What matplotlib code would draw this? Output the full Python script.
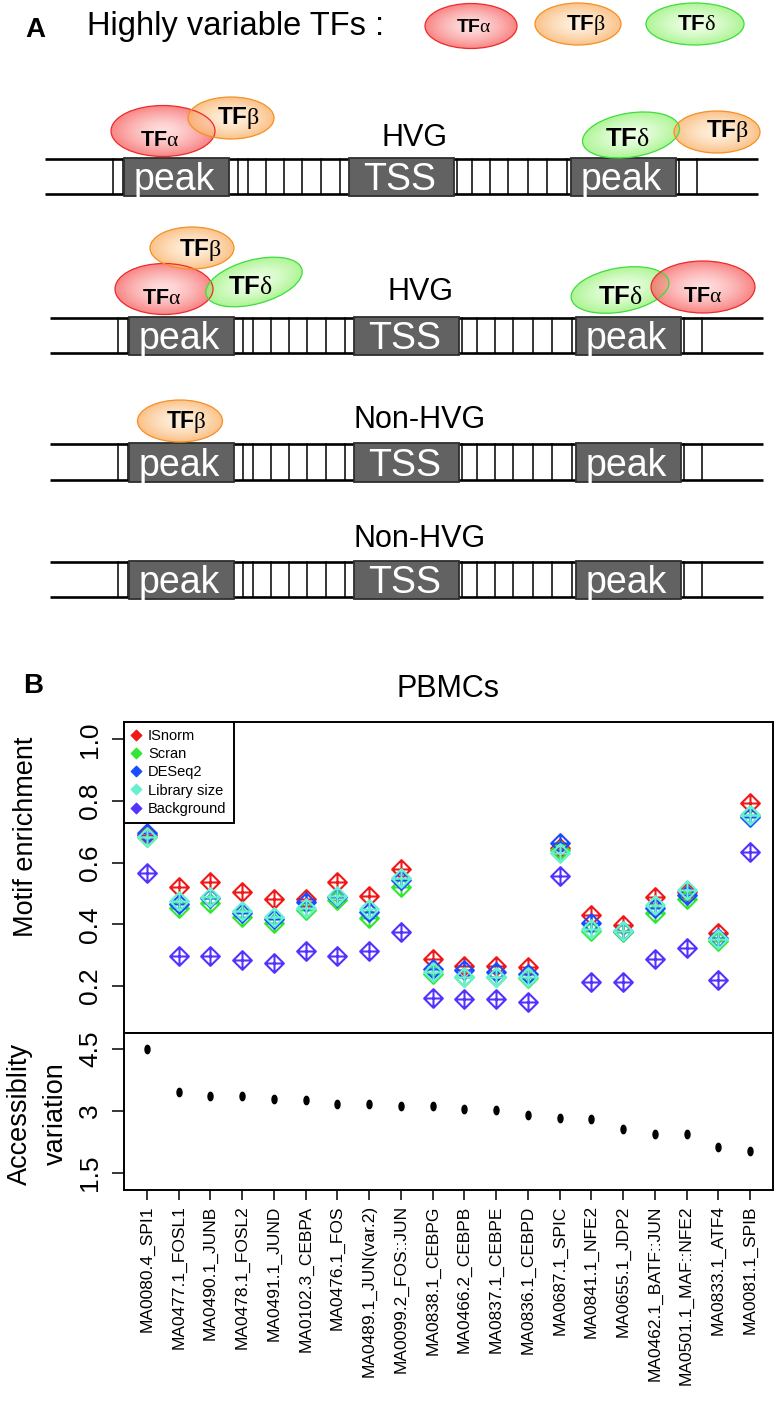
import numpy as np
import matplotlib
matplotlib.use("Agg")
import matplotlib.pyplot as plt
from matplotlib.patches import Ellipse, Rectangle
from matplotlib.path import Path
from matplotlib.lines import Line2D

plt.rcParams['font.family'] = ['Liberation Sans', 'DejaVu Sans']
plt.rcParams['mathtext.fontset'] = 'custom'
plt.rcParams['mathtext.bf'] = 'Liberation Sans:bold'
plt.rcParams['mathtext.rm'] = 'Liberation Serif'
plt.rcParams['mathtext.it'] = 'Liberation Serif:italic'

# ---------------- data ----------------
motifs = ["MA0080.4_SPI1", "MA0477.1_FOSL1", "MA0490.1_JUNB", "MA0478.1_FOSL2",
          "MA0491.1_JUND", "MA0102.3_CEBPA", "MA0476.1_FOS", "MA0489.1_JUN(var.2)",
          "MA0099.2_FOS::JUN", "MA0838.1_CEBPG", "MA0466.2_CEBPB", "MA0837.1_CEBPE",
          "MA0836.1_CEBPD", "MA0687.1_SPIC", "MA0841.1_NFE2", "MA0655.1_JDP2",
          "MA0462.1_BATF::JUN", "MA0501.1_MAF::NFE2", "MA0833.1_ATF4", "MA0081.1_SPIB"]
isnorm = [0.690, 0.520, 0.536, 0.504, 0.481, 0.481, 0.538, 0.492, 0.578, 0.287,
          0.265, 0.265, 0.262, 0.648, 0.430, 0.398, 0.488, 0.505, 0.373, 0.792]
scran = [0.684, 0.452, 0.468, 0.425, 0.403, 0.445, 0.479, 0.420, 0.522, 0.240,
         0.228, 0.228, 0.225, 0.640, 0.380, 0.376, 0.436, 0.481, 0.345, 0.755]
deseq2 = [0.695, 0.465, 0.485, 0.437, 0.417, 0.474, 0.488, 0.440, 0.543, 0.255,
          0.251, 0.247, 0.240, 0.663, 0.403, 0.380, 0.452, 0.495, 0.355, 0.748]
libsize = [0.683, 0.475, 0.490, 0.444, 0.425, 0.452, 0.492, 0.450, 0.549, 0.245,
           0.230, 0.230, 0.230, 0.632, 0.384, 0.378, 0.463, 0.511, 0.351, 0.755]
background = [0.567, 0.297, 0.297, 0.284, 0.276, 0.315, 0.298, 0.315, 0.376, 0.160,
              0.158, 0.158, 0.148, 0.557, 0.214, 0.214, 0.287, 0.324, 0.220, 0.636]
access_var = [4.49, 3.45, 3.37, 3.36, 3.28, 3.27, 3.17, 3.16, 3.13, 3.13,
              3.06, 3.03, 2.90, 2.84, 2.80, 2.56, 2.45, 2.44, 2.12, 2.04]
method_names = ["ISnorm", "Scran", "DESeq2", "Library size", "Background"]
method_colors = ["#f01818", "#33e633", "#1a4cff", "#66f0d0", "#5533ff"]
upper_ticks = [0.2, 0.4, 0.6, 0.8, 1.0]
upper_ticklabels = ["0.2", "0.4", "0.6", "0.8", "1.0"]
lower_ticks = [1.5, 3.0, 4.5]
lower_ticklabels = ["1.5", "3", "4.5"]

W, H = 777, 1406
fig = plt.figure(figsize=(W / 100, H / 100), dpi=100)

# ---------------- panel A (pixel-coordinate canvas) ----------------
axd = fig.add_axes([0, 0, 1, 1])
axd.axis('off')


def Y(y):
    return H - y


RED = (np.array([1.0, 0.84, 0.84]), np.array([0.97, 0.40, 0.40]), '#ee2a2a')
ORG = (np.array([1.0, 0.93, 0.84]), np.array([0.98, 0.70, 0.42]), '#f59025')
GRN = (np.array([0.92, 1.0, 0.88]), np.array([0.60, 0.95, 0.48]), '#3fdc3f')


def tf_ellipse(cx, cy, w, h, ang, cols, label, fs, lx=None, ly=None):
    c_in, c_out, c_line = cols
    yc = Y(cy)
    R = max(w, h) / 2 + 2
    n = 140
    xs = np.linspace(cx - R, cx + R, n)
    ys = np.linspace(yc - R, yc + R, n)
    X, YY = np.meshgrid(xs, ys)
    t = np.deg2rad(ang)
    u = (X - cx) * np.cos(t) + (YY - yc) * np.sin(t)
    v = -(X - cx) * np.sin(t) + (YY - yc) * np.cos(t)
    r = np.sqrt((u / (w / 2)) ** 2 + (v / (h / 2)) ** 2)
    f = np.clip(r, 0, 1) ** 1.5
    img = np.zeros((n, n, 4))
    img[..., :3] = c_in * (1 - f)[..., None] + c_out * f[..., None]
    img[..., 3] = 0.8
    im = axd.imshow(img, extent=(cx - R, cx + R, yc - R, yc + R), origin='lower',
                    zorder=4, interpolation='bilinear')
    clip = Ellipse((cx, yc), w, h, angle=ang, transform=axd.transData)
    im.set_clip_path(clip)
    axd.add_patch(Ellipse((cx, yc), w, h, angle=ang, facecolor='none',
                          edgecolor=c_line, lw=0.9, zorder=5))
    if lx is None:
        lx = cx
    if ly is None:
        ly = cy
    axd.text(lx, Y(ly), label, fontsize=fs, ha='center', va='center', zorder=10)


LA = r'$\mathbf{TF}\mathrm{\alpha}$'
LB = r'$\mathbf{TF}\mathrm{\beta}$'
LD = r'$\mathbf{TF}\mathrm{\delta}$'

# header
axd.text(35, Y(30), "A", fontsize=20, fontweight='bold', ha='center', va='center')
axd.text(87, Y(26), "Highly variable TFs :", fontsize=23.5, ha='left', va='center')
tf_ellipse(471, 26, 92, 45, 0, RED, LA, 14, 474, 27)
tf_ellipse(578, 24, 86, 42, 0, ORG, LB, 16, 586, 25)
tf_ellipse(695, 24, 98, 42, 0, GRN, LD, 16, 696, 25)


def draw_row(ytop, ybot, dx, label, ly):
    x0, x1 = 45 + dx, 758 + dx
    axd.plot([x0, x1], [Y(ytop), Y(ytop)], color='black', lw=1.9, zorder=1,
             solid_capstyle='butt')
    axd.plot([x0, x1], [Y(ybot), Y(ybot)], color='black', lw=1.9, zorder=1,
             solid_capstyle='butt')
    for xv in [113, 123, 238, 248, 266, 284, 302, 321, 340,
               457, 472, 490, 508, 528, 547, 567, 679, 697]:
        axd.plot([xv + dx, xv + dx], [Y(ytop), Y(ybot)], color='black', lw=1.1, zorder=1)
    for (bx0, bx1, txt) in [(124, 229, "peak"), (349, 454, "TSS"), (571, 676, "peak")]:
        axd.add_patch(Rectangle((bx0 + dx, Y(ybot + 2)), bx1 - bx0, (ybot + 2) - (ytop - 1),
                                facecolor='#626262', edgecolor='#2e2e2e', lw=1.3, zorder=2))
        axd.text((bx0 + bx1) / 2 + dx - 2, Y(ybot - 4), txt, color='white', fontsize=27,
                 ha='center', va='baseline', zorder=3)
    axd.text(415 + dx, Y(ly), label, fontsize=22, ha='center', va='center', zorder=3)


draw_row(159, 194, 0, "HVG", 138)
draw_row(318, 353, 5, "HVG", 292)
draw_row(444, 480, 5, "Non-HVG", 420)
draw_row(562, 597, 5, "Non-HVG", 539)

# row 1 TFs
tf_ellipse(163, 131, 104, 51, 0, RED, LA, 15.5, 160, 141)
tf_ellipse(231, 118, 86, 42, 0, ORG, LB, 17.5, 238, 118)
tf_ellipse(631, 135, 98, 44, 9, GRN, LD, 18.5, 627, 139)
tf_ellipse(717, 132, 86, 42, 0, ORG, LB, 17.5, 727, 131)
# row 2 TFs
tf_ellipse(164, 289, 98, 51, 0, RED, LA, 15.5, 162, 298)
tf_ellipse(192, 248, 84, 42, 0, ORG, LB, 17.5, 200, 250)
tf_ellipse(254, 282, 99, 44, 15, GRN, LD, 18.5, 250, 287)
tf_ellipse(620, 290, 99, 44, 10, GRN, LD, 18.5, 620, 297)
tf_ellipse(703, 287, 104, 52, 0, RED, LA, 15.5, 703, 297)
# row 3 TF
tf_ellipse(180, 421, 85, 42, 0, ORG, LB, 16.5, 186, 422)

# ---------------- panel B texts ----------------
axd.text(33, Y(686), "B", fontsize=20, fontweight='bold', ha='center', va='center')
axd.text(448, Y(697), "PBMCs", fontsize=22, ha='center', va='baseline')
axd.text(26, Y(837), "Motif enrichment", fontsize=19.5, rotation=90, ha='center', va='center')
axd.text(20, Y(1114), "Accessiblity", fontsize=19.5, rotation=90, ha='center', va='center')
axd.text(56, Y(1114), "variation", fontsize=19.5, rotation=90, ha='center', va='center')

axd.set_xlim(0, W)
axd.set_ylim(0, H)
axd.set_aspect('auto')

# ---------------- panel B plots ----------------
dp_verts = [(0, 1), (1, 0), (0, -1), (-1, 0), (0, 1), (0, 1), (0, -1), (-1, 0), (1, 0)]
dp_codes = [Path.MOVETO, Path.LINETO, Path.LINETO, Path.LINETO, Path.CLOSEPOLY,
            Path.MOVETO, Path.LINETO, Path.MOVETO, Path.LINETO]
diamond_plus = Path(dp_verts, dp_codes)
diamond = Path([(0, 1), (1, 0), (0, -1), (-1, 0), (0, 1)],
               [Path.MOVETO, Path.LINETO, Path.LINETO, Path.LINETO, Path.CLOSEPOLY])
th = np.linspace(0, 2 * np.pi, 40)
dot = Path(np.column_stack([0.6 * np.cos(th), np.sin(th)]))

x = np.arange(1, len(motifs) + 1)
ax1 = fig.add_axes([124 / W, 1 - 1033 / H, 649 / W, 311 / H])
ax2 = fig.add_axes([124 / W, 1 - 1190 / H, 649 / W, 157 / H])

for series, col in zip([isnorm, scran, deseq2, libsize, background], method_colors):
    ax1.plot(x, series, ls='none', marker=diamond_plus, ms=13.5, mec=col, mfc='none',
             mew=1.5)
ax1.set_xlim(0.275, 20.725)
ax1.set_ylim(0.0477, 1.056)
ax1.set_xticks([])
ax1.set_yticks(upper_ticks)
ax1.set_yticklabels(upper_ticklabels, rotation=90, va='center', fontsize=19)
ax1.tick_params(axis='y', length=8.5, width=1.1, pad=7)

handles = [Line2D([], [], ls='none', marker=diamond, ms=7.5, mfc=c, mec=c)
           for c in method_colors]
leg = ax1.legend(handles, method_names, loc='upper left', bbox_to_anchor=(0, 1),
                 borderaxespad=0, frameon=True, fancybox=False, edgecolor='black',
                 fontsize=10.5, handlelength=0.7, handletextpad=0.45, borderpad=0.5,
                 labelspacing=0.28, framealpha=1)
leg.get_frame().set_linewidth(1.4)

ax2.plot(x, access_var, ls='none', marker=dot, ms=6, color='black')
ax2.set_xlim(0.275, 20.725)
ax2.set_ylim(1.089, 4.887)
ax2.set_yticks(lower_ticks)
ax2.set_yticklabels(lower_ticklabels, rotation=90, va='center', fontsize=19)
ax2.tick_params(axis='y', length=8.5, width=1.1, pad=7)
ax2.set_xticks(x)
ax2.set_xticklabels(motifs, rotation=90, fontsize=12.5, ha='center', va='top')
ax2.tick_params(axis='x', length=7, width=1.1, pad=4)

for a in (ax1, ax2):
    for s in a.spines.values():
        s.set_linewidth(1.4)

fig.savefig("out.png", dpi=100)
